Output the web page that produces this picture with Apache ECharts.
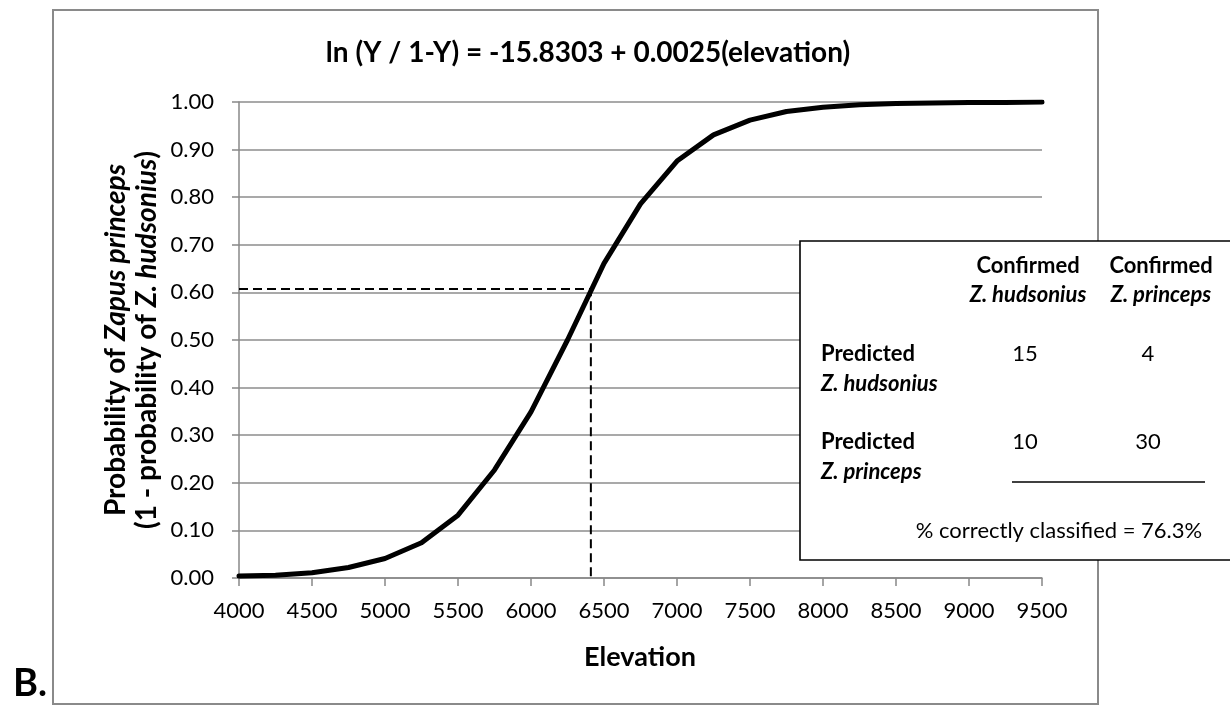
<!DOCTYPE html>
<html><head><meta charset="utf-8">
<script src="https://cdn.jsdelivr.net/npm/echarts@6/dist/echarts.min.js"></script>
<style>html,body{margin:0;padding:0;background:#fff}#c{width:1230px;height:707px}</style>
</head><body><div id="c"></div>
<script>
// ---- data ----
const elevation   = [4000,4250,4500,4750,5000,5250,5500,5750,6000,6250,6500,6750,7000,7250,7500,7750,8000,8250,8500,8750,9000,9250,9500];
const probability = [0.004,0.006,0.011,0.022,0.041,0.074,0.132,0.227,0.349,0.500,0.661,0.786,0.876,0.931,0.962,0.980,0.989,0.994,0.997,0.998,0.999,0.999,1.000];
const cutoffElevation = 6410;
const cutoffProbability = 0.607;
const xTickMin = 4000, xTickMax = 9500, xTickStep = 500;
const yTickMin = 0, yTickMax = 1, yTickStep = 0.1;

const chartTitle = 'ln (Y / 1-Y) = -15.8303 + 0.0025(elevation)';
const xTitle = 'Elevation';
const panelLabel = 'B.';
const colHeaders = [['Confirmed','Z. hudsonius'],['Confirmed','Z. princeps']];
const rowHeaders = [['Predicted','Z. hudsonius'],['Predicted','Z. princeps']];
const counts = [[15,4],[10,30]];
const accuracyText = '% correctly classified = 76.3%';

// ---- chart ----
const FONT = 'Lato';
const chart = echarts.init(document.getElementById('c'), null, {renderer:'canvas'});

const gx = 239, gy = 102, gw = 803, gh = 476;

const dashedPath = [[xTickMin, cutoffProbability],[cutoffElevation, cutoffProbability],[cutoffElevation, 0]];

function tableGraphics(){
  const els = [];
  els.push({type:'rect', shape:{x:800, y:241, width:450, height:319},
    style:{fill:'#fff', stroke:'#000', lineWidth:1.6}, z:100});
  const colX = [1028, 1161];
  colHeaders.forEach((h,i)=>{
    els.push({type:'text', x:colX[i], y:266, z:101, style:{text:h[0], font:'bold 22px '+FONT, fill:'#000', align:'center', verticalAlign:'middle'}});
    els.push({type:'text', x:colX[i], y:295, z:101, style:{text:h[1], font:'italic bold 22px '+FONT, fill:'#000', align:'center', verticalAlign:'middle'}});
  });
  const rowY = [354, 442];
  rowHeaders.forEach((h,i)=>{
    els.push({type:'text', x:821, y:rowY[i], z:101, style:{text:h[0], font:'bold 22px '+FONT, fill:'#000', align:'left', verticalAlign:'middle'}});
    els.push({type:'text', x:821, y:rowY[i]+30, z:101, style:{text:h[1], font:'italic bold 22px '+FONT, fill:'#000', align:'left', verticalAlign:'middle'}});
    counts[i].forEach((v,j)=>{
      els.push({type:'text', x:[1025,1148][j], y:rowY[i], z:101, style:{text:String(v), font:'22px '+FONT, fill:'#000', align:'center', verticalAlign:'middle'}});
    });
  });
  els.push({type:'line', shape:{x1:1012, y1:482, x2:1205, y2:482}, style:{stroke:'#000', lineWidth:1.6}, z:101});
  els.push({type:'text', x:1059, y:531, z:101, style:{text:accuracyText, font:'22px '+FONT, fill:'#000', align:'center', verticalAlign:'middle'}});
  return els;
}

const option = {
  animation:false,
  backgroundColor:'#fff',
  grid:{left:gx, top:gy, width:gw, height:gh, containLabel:false},
  xAxis:{type:'value', min:xTickMin, max:xTickMax, interval:xTickStep,
    axisLine:{show:true, onZero:false, lineStyle:{color:'#888', width:1.5}},
    axisTick:{show:true, length:8, lineStyle:{color:'#888', width:1.5}},
    axisLabel:{color:'#000', fontFamily:FONT, fontSize:22, margin:22, formatter:v=>String(v)},
    splitLine:{show:false}},
  yAxis:{type:'value', min:yTickMin, max:yTickMax, interval:yTickStep,
    axisLine:{show:true, lineStyle:{color:'#888', width:1.5}},
    axisTick:{show:true, length:7, lineStyle:{color:'#888', width:1.5}},
    axisLabel:{color:'#000', fontFamily:FONT, fontSize:22, margin:25, formatter:v=>v.toFixed(2)},
    splitLine:{show:true, lineStyle:{color:'#8c8c8c', width:1.5}}},
  series:[
    {type:'line', data:dashedPath, showSymbol:false, symbol:'none',
      lineStyle:{color:'#000', width:2, type:[9,5]}, z:3, silent:true},
    {type:'line', data:elevation.map((e,i)=>[e, probability[i]]), showSymbol:false, symbol:'none',
      lineStyle:{color:'#000', width:5, cap:'round', join:'round'}, z:4, silent:true}
  ],
  graphic:[
    {type:'rect', shape:{x:53, y:10, width:1045, height:694}, style:{fill:null, stroke:'#8a8a8a', lineWidth:2}, z:0, silent:true},
    {type:'text', x:588, y:53, style:{text:chartTitle, font:'bold 28px '+FONT, fill:'#000', align:'center', verticalAlign:'middle'}},
    {type:'text', x:640, y:657, style:{text:xTitle, font:'bold 27px '+FONT, fill:'#000', align:'center', verticalAlign:'middle'}},
    {type:'text', x:116, y:340, rotation:Math.PI/2, style:{
      text:'{b|Probability of }{bi|Zapus princeps}', align:'center', verticalAlign:'middle',
      rich:{b:{font:'bold 28px '+FONT, fill:'#000'}, bi:{font:'italic bold 28px '+FONT, fill:'#000'}}}},
    {type:'text', x:147, y:340, rotation:Math.PI/2, style:{
      text:'{b|(1 - probability of }{bi|Z. hudsonius}{b|)}', align:'center', verticalAlign:'middle',
      rich:{b:{font:'bold 28px '+FONT, fill:'#000'}, bi:{font:'italic bold 28px '+FONT, fill:'#000'}}}},
    {type:'text', x:13, y:703, style:{text:panelLabel, font:'bold 38px '+FONT, fill:'#000', align:'left', verticalAlign:'bottom'}},
    ...tableGraphics()
  ]
};
chart.setOption(option);
</script></body></html>
